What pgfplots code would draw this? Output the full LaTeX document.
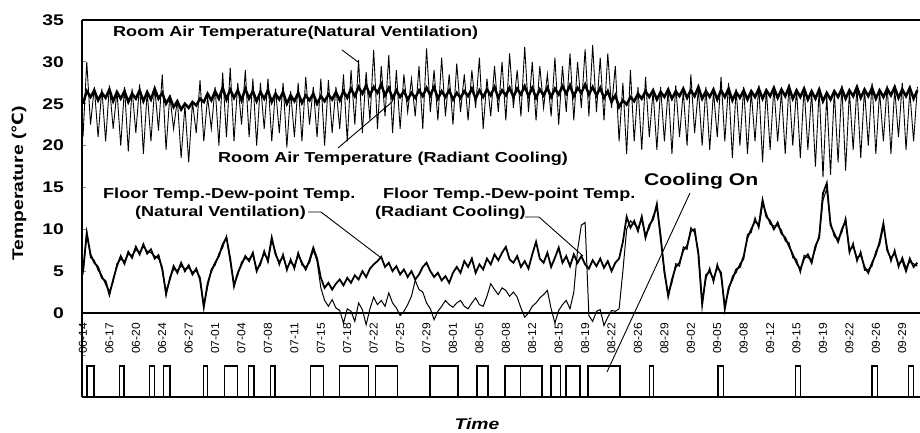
\documentclass[border=0pt]{standalone}
\usepackage{pgfplots}
\usepackage{pgfplotstable}
\pgfplotsset{compat=1.18}
\usepackage{fontspec}
\setmainfont{Liberation Sans}
\newfontfamily\lab{Liberation Sans}[FakeStretch=1.25]
\newfontfamily\datef{Liberation Sans}[FakeStretch=1.05]
\newfontfamily\dv{DejaVu Sans}[FakeStretch=1.1]
\newcommand\ann{\lab\bfseries\fontsize{14.5}{16}\selectfont}

\pgfplotstableread{
d nv rc fnv frc
0 21.0 25.0 4.9 4.6
0.5 30.0 26.5 9.5 9.8
1 22.5 25.8 7.0 6.6
1.5 27.0 26.6 6.0 6.3
2 21.0 25.4 5.5 5.1
2.5 26.8 26.3 4.2 4.5
3 20.5 25.7 3.8 3.4
3.5 27.2 26.7 2.2 2.6
4 22.0 25.3 4.0 3.7
4.5 26.5 26.4 5.6 5.9
5 20.0 25.6 6.8 6.4
5.5 27.0 26.5 5.9 6.2
6 19.3 25.2 7.3 7.0
6.5 26.8 26.2 6.6 6.9
7 21.5 25.6 7.9 7.5
7.5 27.3 26.6 7.0 7.3
8 19.0 25.3 8.2 7.9
8.5 26.5 26.4 7.1 7.4
9 20.5 25.5 7.6 7.2
9.5 27.0 26.8 6.5 6.8
10 21.8 25.6 6.9 6.5
10.5 28.5 26.3 5.2 5.5
11 19.5 25.0 2.4 2.0
11.5 26.0 25.8 4.0 4.3
12 22.0 24.6 5.6 5.2
12.5 25.5 25.3 4.8 5.1
13 18.5 24.3 6.0 5.6
13.5 24.8 25.0 5.0 5.3
14 18.0 24.5 5.7 5.4
14.5 25.2 25.2 4.6 4.9
15 21.5 24.8 5.3 5.0
15.5 27.8 25.6 4.0 4.3
16 20.5 25.2 0.7 0.9
16.5 25.8 26.2 3.5 3.1
17 22.0 25.4 5.0 5.3
17.5 27.0 26.5 6.0 5.7
18 20.0 25.6 6.8 7.1
18.5 28.7 26.9 8.2 7.8
19 21.0 25.5 9.0 9.2
19.5 29.3 26.7 6.5 6.1
20 20.5 25.7 3.2 3.5
20.5 27.5 26.6 4.8 4.5
21 22.5 25.4 5.8 6.1
21.5 29.0 26.8 6.8 6.5
22 21.0 25.6 6.2 6.5
22.5 28.0 26.5 7.2 6.9
23 20.0 25.3 5.0 5.3
23.5 27.5 26.4 6.0 5.7
24 22.0 25.6 7.2 7.5
24.5 28.0 26.6 6.3 6.0
25 20.5 25.2 9.0 8.7
25.5 26.8 26.2 7.0 7.3
26 21.5 25.5 6.0 5.7
26.5 27.5 26.4 6.8 7.1
27 19.8 25.0 5.3 5.0
27.5 26.5 26.0 6.2 6.5
28 21.0 25.3 5.5 5.2
28.5 27.5 26.3 7.0 7.3
29 20.5 25.1 6.0 5.7
29.5 28.2 26.0 5.2 5.5
30 22.5 25.4 6.3 6.0
30.5 27.0 26.2 7.8 7.5
31 21.0 25.0 6.5 6.2
31.5 28.0 25.9 4.2 3.0
32 20.0 25.3 3.0 1.5
32.5 27.8 26.1 3.6 0.8
33 21.5 25.5 2.8 1.6
33.5 27.0 26.4 3.5 0.6
34 22.0 25.4 4.0 0.3
34.5 28.5 26.5 3.3 -1.2
35 20.5 25.7 4.2 0.5
35.5 29.0 26.8 3.6 0.2
36 22.5 25.9 4.5 -1.0
36.5 30.2 27.0 4.0 1.2
37 21.5 26.2 5.0 0.4
37.5 28.8 27.2 4.3 -1.4
38 23.0 26.0 5.3 0.5
38.5 31.4 27.0 5.8 1.9
39 22.0 26.3 6.2 1.0
39.5 29.5 27.3 6.7 1.5
40 23.5 26.0 5.5 0.8
40.5 30.8 26.9 6.0 2.4
41 21.5 25.6 5.0 1.2
41.5 29.0 26.6 5.6 0.6
42 22.0 25.8 4.6 -0.3
42.5 28.5 26.5 5.2 0.2
43 24.0 25.5 4.3 1.0
43.5 28.0 26.3 5.0 2.0
44 23.5 25.7 4.0 3.9
44.5 29.5 26.6 4.6 2.8
45 22.0 25.9 5.5 2.5
45.5 31.6 26.9 6.0 1.2
46 24.0 26.0 5.0 0.5
46.5 29.0 27.0 4.3 -0.8
47 23.0 25.6 4.8 0.2
47.5 30.5 26.5 3.9 0.8
48 23.5 25.8 4.4 1.5
48.5 28.5 26.6 3.6 1.0
49 22.5 25.5 4.8 0.7
49.5 29.8 26.3 5.5 1.2
50 24.0 25.7 4.8 1.5
50.5 28.5 26.5 6.2 0.8
51 23.0 25.9 5.5 0.5
51.5 29.0 26.8 6.5 1.2
52 24.5 25.6 4.8 1.8
52.5 30.5 26.6 5.8 1.0
53 22.0 25.8 5.2 0.8
53.5 28.0 26.7 6.5 2.0
54 23.5 26.0 5.8 3.5
54.5 29.5 27.0 7.0 2.8
55 24.0 25.7 6.3 2.2
55.5 30.0 26.6 7.2 3.0
56 23.0 26.0 7.9 2.7
56.5 31.0 26.9 6.4 2.0
57 24.5 25.8 6.0 2.5
57.5 29.0 26.8 6.8 1.9
58 23.5 26.1 5.5 0.6
58.5 31.8 27.1 6.2 -0.5
59 24.0 25.9 5.3 0.0
59.5 30.0 26.9 7.0 0.8
60 23.0 25.7 8.5 1.2
60.5 29.5 26.7 6.5 1.8
61 24.5 26.0 6.0 2.2
61.5 28.5 26.9 7.2 2.7
62 23.5 25.8 5.5 0.5
62.5 30.5 26.8 6.6 -1.2
63 22.5 26.1 7.8 0.3
63.5 29.5 27.1 6.0 1.0
64 24.0 26.2 6.8 1.5
64.5 31.0 27.2 5.6 0.5
65 23.0 25.9 7.0 2.5
65.5 30.0 26.9 6.0 7.5
66 24.5 26.3 6.8 10.5
66.5 31.5 27.3 5.8 10.8
67 23.5 26.1 5.3 -0.3
67.5 32.0 27.0 6.3 -1.0
68 24.0 26.0 5.6 0.2
68.5 30.5 26.9 6.5 0.4
69 23.0 25.7 5.4 -1.5
69.5 31.0 26.5 6.2 -0.5
70 24.5 25.2 5.0 0.3
70.5 29.5 26.0 6.0 0.2
71 20.5 24.6 6.5 0.5
71.5 27.5 25.4 8.5 5.0
72 19.0 24.9 11.5 10.0
72.5 29.0 25.8 10.2 11.0
73 20.5 25.3 11.0 10.6
73.5 27.0 26.2 9.8 10.2
74 19.5 25.6 11.5 11.1
74.5 28.2 26.5 9.0 9.4
75 21.0 25.8 10.5 10.1
75.5 26.5 26.6 11.2 11.6
76 19.5 25.5 13.0 12.5
76.5 27.0 26.4 9.0 9.5
77 20.5 25.8 5.0 4.6
77.5 26.8 26.7 2.0 2.4
78 19.0 25.6 4.0 3.6
78.5 27.2 26.5 5.5 5.9
79 21.0 25.9 6.0 5.6
79.5 26.5 26.8 7.5 7.9
80 20.0 25.7 8.0 7.6
80.5 28.5 26.6 9.8 10.2
81 21.5 25.9 10.0 9.6
81.5 26.8 27.0 7.0 7.4
82 20.0 25.6 1.0 1.4
82.5 27.0 26.5 4.5 4.1
83 19.5 25.8 5.0 5.4
83.5 26.5 26.7 4.0 3.6
84 21.0 25.5 5.5 5.9
84.5 28.2 26.6 4.8 4.4
85 20.5 25.8 0.5 0.9
85.5 27.5 26.8 3.0 2.6
86 18.5 25.4 4.0 4.4
86.5 26.8 26.4 5.2 4.8
87 20.0 25.7 5.5 5.9
87.5 27.0 26.6 6.8 6.4
88 19.0 25.5 9.0 9.4
88.5 26.5 26.5 10.0 9.6
89 20.5 25.8 11.0 11.4
89.5 27.2 26.8 10.5 10.1
90 18.0 25.6 13.5 13.0
90.5 26.8 26.6 11.5 11.9
91 19.5 25.9 11.0 10.6
91.5 27.0 26.9 10.0 10.4
92 20.5 25.7 10.8 10.4
92.5 26.5 26.7 9.5 9.9
93 19.0 25.9 9.0 8.6
93.5 27.3 27.0 8.0 8.4
94 20.0 25.6 7.0 6.6
94.5 26.8 26.6 6.0 6.4
95 18.5 25.8 5.2 4.8
95.5 27.0 26.8 6.5 6.9
96 19.5 25.5 7.0 6.6
96.5 26.5 26.5 6.0 6.4
97 17.5 25.6 8.0 7.6
97.5 26.8 26.7 9.0 9.4
98 16.2 25.3 14.3 13.5
98.5 26.0 26.3 15.5 14.8
99 16.5 25.5 10.5 10.9
99.5 26.5 26.5 9.5 9.1
100 18.0 25.8 8.5 8.9
100.5 27.2 26.8 10.0 9.6
101 17.0 25.6 11.0 11.4
101.5 26.5 26.6 7.5 7.1
102 19.5 25.9 8.0 8.4
102.5 27.0 27.0 6.5 6.1
103 18.5 25.7 7.0 7.4
103.5 26.8 26.7 5.5 5.1
104 20.0 25.9 4.8 5.2
104.5 27.5 26.9 6.0 5.6
105 19.0 25.6 7.0 7.4
105.5 26.5 26.6 8.5 8.1
106 20.5 25.8 10.7 10.3
106.5 27.2 26.8 7.5 7.9
107 19.0 26.0 6.5 6.1
107.5 26.8 27.0 7.2 7.6
108 21.0 25.7 5.8 5.4
108.5 27.5 26.7 6.3 6.7
109 19.5 25.9 5.0 5.4
109.5 26.5 26.9 6.5 6.1
110 20.5 25.6 5.5 5.9
110.5 27.0 26.6 6.0 5.6
}\data

\begin{document}
\begin{tikzpicture}
\path[use as bounding box] (0,0) rectangle (920bp,433bp);

% lower panel: cooling on periods
\begin{axis}[at={(82bp,36bp)}, anchor=south west, scale only axis,
  width=838bp, height=84bp, xmin=-0.13, xmax=110.85, ymin=0, ymax=84,
  axis x line*=bottom, axis y line*=left, xtick=\empty, ytick={42}, yticklabels={},
  tick align=inside, major tick length=4bp, ytick style={line width=1bp},
  axis line style={line width=1.8bp}, clip=false]
\addplot[black, line width=1.3bp, sharp plot] coordinates {
(-0.13,0)(0.53,0)(0.53,31)(1.46,31)(1.46,0)
(4.81,0)(4.81,31)(5.43,31)(5.43,0)
(8.78,0)(8.78,31)(9.44,31)(9.44,0)
(10.64,0)(10.64,31)(11.52,31)(11.52,0)
(15.93,0)(15.93,31)(16.5,31)(16.5,0)
(18.7,0)(18.7,31)(20.5,31)(20.5,0)
(21.95,0)(21.95,31)(22.65,31)(22.65,0)
(24.86,0)(24.86,31)(25.43,31)(25.43,0)
(30.16,0)(30.16,31)(31.83,31)(31.83,0)
(33.95,0)(33.95,31)(37.79,31)(37.79,0)
(38.77,0)(38.77,31)(41.63,31)(41.63,0)
(45.96,0)(45.96,31)(49.67,31)(49.67,0)
(52.19,0)(52.19,31)(53.64,31)(53.64,0)
(55.9,0)(55.9,31)(57.9,31)(57.9,0)(57.9,31)(60.8,31)(60.8,0)
(62.0,0)(62.0,31)(63.2,31)(63.2,0)
(63.97,0)(63.97,31)(65.83,31)(65.83,0)
(66.9,0)(66.9,31)(71.1,31)(71.1,0)
(75.0,0)(75.0,31)(75.6,31)(75.6,0)
(84.1,0)(84.1,31)(84.8,31)(84.8,0)
(94.4,0)(94.4,31)(95.0,31)(95.0,0)
(104.5,0)(104.5,31)(105.2,31)(105.2,0)
(109.3,0)(109.3,31)(110.0,31)(110.0,0)(110.85,0)
};
\end{axis}

% upper panel: temperatures
\begin{axis}[at={(82bp,120bp)}, anchor=south west, scale only axis,
  width=838bp, height=293bp, xmin=-0.13, xmax=110.85, ymin=0, ymax=35,
  axis x line*=box, axis y line*=left, clip=false,
  axis line style={line width=1.8bp},
  ytick={0,5,10,15,20,25,30,35}, tick align=inside, major tick length=4bp,
  ytick style={line width=1.2bp},
  /pgf/number format/assume math mode=true,
  yticklabel style={font=\lab\bfseries\fontsize{15.5}{17}\selectfont, inner sep=0pt, xshift=-18bp},
  xtick={0,3.5,7,10.5,14,17.5,21,24.5,28,31.5,35,38.5,42,45.5,49,52.5,56,59.5,63,66.5,70,73.5,77,80.5,84,87.5,91,94.5,98,101.5,105,108.5},
  xticklabels={06-14,06-17,06-20,06-24,06-27,07-01,07-04,07-08,07-11,07-15,07-18,07-22,07-25,07-29,08-01,08-05,08-08,08-12,08-15,08-19,08-22,08-26,08-29,09-02,09-05,09-08,09-12,09-15,09-19,09-22,09-26,09-29},
  xtick style={draw=none},
  xticklabel style={font=\datef\fontsize{11.5}{12}\selectfont, rotate=90, anchor=east, inner sep=0pt},
  xticklabel shift=10bp]
\addplot[black, line width=0.9bp] table[x=d, y=nv] {\data};
\addplot[black, line width=2.5bp] table[x=d, y=rc] {\data};
\addplot[black, line width=1.0bp] table[x=d, y=frc] {\data};
\addplot[black, line width=1.8bp] table[x=d, y=fnv] {\data};
\draw[line width=2.8bp] (rel axis cs:0,0) -- (rel axis cs:1,0);
\end{axis}

% annotations in pixel coordinates
\begin{scope}[shift={(0bp,433bp)}, x=1bp, y=-1bp]
\node[anchor=base west, inner sep=0pt] at (113,37) {\ann Room Air Temperature(Natural Ventilation)};
\node[anchor=base west, inner sep=0pt] at (218,163) {\ann Room Air Temperature (Radiant Cooling)};
\node[anchor=base west, inner sep=0pt] at (103,199) {\ann Floor Temp.-Dew-point Temp.};
\node[anchor=base west, inner sep=0pt] at (135,217) {\ann (Natural Ventilation)};
\node[anchor=base west, inner sep=0pt] at (383,199) {\ann Floor Temp.-Dew-point Temp.};
\node[anchor=base west, inner sep=0pt] at (375,217) {\ann (Radiant Cooling)};
\node[anchor=base west, inner sep=0pt] at (644,186) {\lab\bfseries\fontsize{17}{19}\selectfont Cooling On};
\draw[line width=0.9bp] (342,50) -- (358,62);
\draw[line width=0.9bp] (338,148) -- (392,102);
\draw[line width=0.9bp] (308,212) -- (321,212) -- (380,257);
\draw[line width=0.9bp] (525,217) -- (539,217) -- (583,256);
\draw[line width=0.9bp] (690,193) -- (607,372);
\node[rotate=90, inner sep=0pt] at (19,183.5) {\lab\bfseries\fontsize{15.5}{17}\selectfont Temperature ({\dv\bfseries ℃})};
\node[inner sep=0pt] at (477,424) {\lab\bfseries\itshape\fontsize{15.5}{17}\selectfont Time};
\end{scope}
\end{tikzpicture}
\end{document}
